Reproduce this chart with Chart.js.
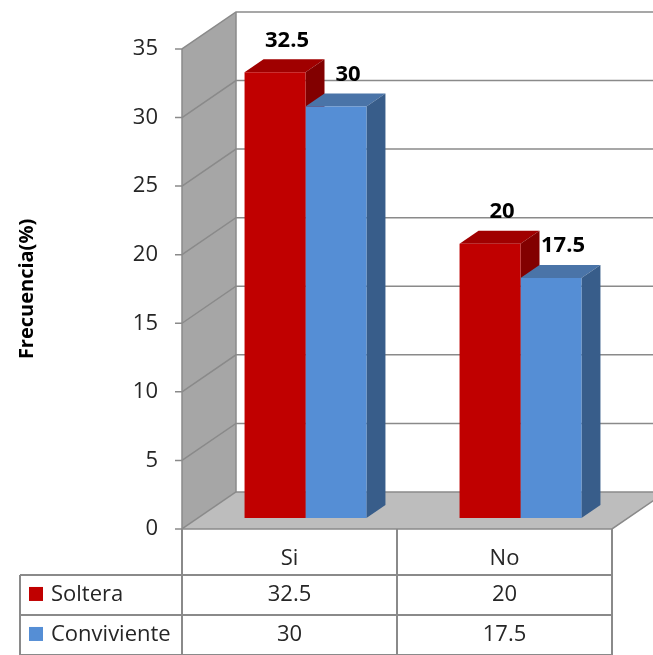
<!DOCTYPE html>
<html>
<head>
<meta charset="utf-8">
<script src="https://cdn.jsdelivr.net/npm/chart.js@4.4.1/dist/chart.umd.min.js"></script>
<style>
  html, body { margin: 0; padding: 0; background: #fff; }
  #wrap { width: 653px; height: 655px; position: relative; }
</style>
</head>
<body>
<div id="wrap"><canvas id="chartArea"></canvas></div>
<script>
// Chart data
var categories = ['Si', 'No'];
var seriesNames = ['Soltera', 'Conviviente'];
var solteraValues = [32.5, 20];
var convivienteValues = [30, 17.5];
var yMin = 0;
var yMax = 35;
var yStep = 5;
var yTitle = 'Frecuencia(%)';

// Colours per series: front, top, side
var frontColors = ['#c00000', '#558ed5'];
var topColors = ['#a00000', '#4a74a8'];
var sideColors = ['#820000', '#385d8a'];

// 3D look: how far things sit in depth (px along the oblique)
var depthRatio = 37 / 54;
var frontDepth = -16;  // front edge of floor / y axis
var barDepth = 19;     // thickness of each bar
var backDepth = 38;    // back wall
var fontName = '"Open Sans", sans-serif';

function shift(d) {
  return { x: d, y: -d * depthRatio };
}

function quad(ctx, pts, fill, stroke) {
  ctx.beginPath();
  ctx.moveTo(pts[0][0], pts[0][1]);
  for (var i = 1; i < pts.length; i++) ctx.lineTo(pts[i][0], pts[i][1]);
  ctx.closePath();
  if (fill) { ctx.fillStyle = fill; ctx.fill(); }
  if (stroke) { ctx.strokeStyle = stroke; ctx.stroke(); }
}

function tickValues(ys) {
  if (ys.ticks && ys.ticks.length) return ys.ticks.map(function (t) { return t.value; });
  var out = [];
  for (var v = yMin; v <= yMax; v += yStep) out.push(v);
  return out;
}

var threeD = {
  id: 'threeD',
  beforeDatasetsDraw: function (chart) {
    var ctx = chart.ctx, area = chart.chartArea;
    var ys = chart.scales.y;
    var f = shift(frontDepth), b = shift(backDepth);
    var y0 = ys.getPixelForValue(yMin), yTop = ys.getPixelForValue(yMax);
    var W = chart.width + 60;

    ctx.save();
    ctx.lineWidth = 1.5;
    // back wall
    quad(ctx, [[area.left + b.x, yTop + b.y], [W, yTop + b.y], [W, y0 + b.y], [area.left + b.x, y0 + b.y]], '#ffffff');
    // left side wall
    quad(ctx, [[area.left + f.x, y0 + f.y], [area.left + b.x, y0 + b.y],
               [area.left + b.x, yTop + b.y], [area.left + f.x, yTop + f.y]], '#a6a6a6');
    // floor
    quad(ctx, [[area.left + f.x, y0 + f.y], [area.right + f.x, y0 + f.y],
               [area.right + b.x, y0 + b.y], [area.left + b.x, y0 + b.y]], '#bdbdbd');

    // grid lines on side wall and back wall
    ctx.strokeStyle = '#8a8a8a';
    tickValues(ys).forEach(function (v) {
      var y = ys.getPixelForValue(v);
      ctx.beginPath();
      ctx.moveTo(area.left + f.x, y + f.y);
      ctx.lineTo(area.left + b.x, y + b.y);
      if (v !== yMin) ctx.lineTo(W, y + b.y);
      ctx.stroke();
    });
    // wall edges
    ctx.beginPath();
    ctx.moveTo(area.left + b.x, yTop + b.y);
    ctx.lineTo(area.left + b.x, y0 + b.y);
    ctx.lineTo(area.right + b.x, y0 + b.y);
    ctx.moveTo(area.left + f.x, y0 + f.y);
    ctx.lineTo(area.right + f.x, y0 + f.y);
    ctx.lineTo(area.right + b.x, y0 + b.y);
    ctx.stroke();

    // bar tops and sides (fronts are drawn by Chart.js)
    var d = shift(barDepth);
    chart.data.datasets.forEach(function (ds, i) {
      chart.getDatasetMeta(i).data.forEach(function (bar) {
        var l = bar.x - bar.width / 2, r = bar.x + bar.width / 2;
        quad(ctx, [[l, bar.y], [r, bar.y], [r + d.x, bar.y + d.y], [l + d.x, bar.y + d.y]], topColors[i]);
        quad(ctx, [[r, bar.y], [r + d.x, bar.y + d.y], [r + d.x, bar.base + d.y], [r, bar.base]], sideColors[i]);
      });
    });
    ctx.restore();
  },
  afterDatasetsDraw: function (chart) {
    var ctx = chart.ctx, area = chart.chartArea;
    var xs = chart.scales.x, ys = chart.scales.y;
    var f = shift(frontDepth), d = shift(barDepth);
    var y0 = ys.getPixelForValue(yMin) + f.y;
    var yTop = ys.getPixelForValue(yMax) + f.y;
    var axisX = area.left + f.x;

    ctx.save();
    // front y axis with ticks
    ctx.strokeStyle = '#8a8a8a';
    ctx.lineWidth = 1.5;
    ctx.beginPath();
    ctx.moveTo(axisX, yTop);
    ctx.lineTo(axisX, y0);
    tickValues(ys).forEach(function (v) {
      var y = ys.getPixelForValue(v) + f.y;
      ctx.moveTo(axisX - 7, y);
      ctx.lineTo(axisX, y);
    });
    ctx.stroke();

    ctx.fillStyle = '#262626';
    ctx.font = '22px ' + fontName;
    ctx.textAlign = 'right';
    ctx.textBaseline = 'middle';
    tickValues(ys).forEach(function (v) {
      ctx.fillText(String(v), axisX - 24, ys.getPixelForValue(v) + f.y);
    });

    // axis title
    ctx.save();
    ctx.translate(27, (yTop + y0) / 2);
    ctx.rotate(-Math.PI / 2);
    ctx.textAlign = 'center';
    ctx.font = 'bold 20px ' + fontName;
    ctx.fillStyle = '#000';
    ctx.fillText(yTitle, 0, 0);
    ctx.restore();

    // value labels over the bars
    ctx.font = 'bold 22px ' + fontName;
    ctx.textAlign = 'center';
    ctx.fillStyle = '#000';
    chart.data.datasets.forEach(function (ds, i) {
      chart.getDatasetMeta(i).data.forEach(function (bar, j) {
        ctx.fillText(String(ds.data[j]), bar.x + 12, bar.y + d.y - 19);
      });
    });

    // data table under the plot
    var tblLeft = 20, headH = 46, rowH = 40;
    var xRight = area.right + f.x;
    var bounds = [axisX];
    for (var k = 1; k < categories.length; k++) {
      bounds.push((xs.getPixelForValue(k - 1) + xs.getPixelForValue(k)) / 2 + f.x);
    }
    bounds.push(xRight);
    var rowsTop = y0 + headH;
    var tblBottom = rowsTop + rowH * seriesNames.length;

    ctx.strokeStyle = '#8a8a8a';
    ctx.lineWidth = 2;
    ctx.beginPath();
    bounds.forEach(function (x) {
      ctx.moveTo(x, y0);
      ctx.lineTo(x, tblBottom);
    });
    ctx.moveTo(tblLeft, rowsTop);
    ctx.lineTo(tblLeft, tblBottom);
    for (var r = 0; r <= seriesNames.length; r++) {
      ctx.moveTo(tblLeft, rowsTop + r * rowH);
      ctx.lineTo(xRight, rowsTop + r * rowH);
    }
    ctx.stroke();

    ctx.font = '22px ' + fontName;
    ctx.fillStyle = '#262626';
    ctx.textAlign = 'center';
    categories.forEach(function (c, j) {
      ctx.fillText(c, xs.getPixelForValue(j) + f.x, y0 + 30);
    });
    chart.data.datasets.forEach(function (ds, i) {
      var cy = rowsTop + rowH * i + rowH / 2;
      ctx.fillStyle = frontColors[i];
      ctx.fillRect(29, cy - 8, 14, 14);
      ctx.fillStyle = '#262626';
      ctx.textAlign = 'left';
      ctx.fillText(ds.label, 51, cy);
      ctx.textAlign = 'center';
      ds.data.forEach(function (v, j) {
        ctx.fillText(String(v), xs.getPixelForValue(j) + f.x, cy);
      });
    });
    ctx.restore();
  }
};

var ctx = document.getElementById('chartArea').getContext('2d');
new Chart(ctx, {
  type: 'bar',
  data: {
    labels: categories,
    datasets: [
      { label: seriesNames[0], data: solteraValues, backgroundColor: frontColors[0] },
      { label: seriesNames[1], data: convivienteValues, backgroundColor: frontColors[1] }
    ]
  },
  options: {
    responsive: true,
    maintainAspectRatio: false,
    animation: false,
    devicePixelRatio: 1,
    layout: { padding: { left: 198, right: 25, top: 38, bottom: 137 } },
    datasets: { bar: { categoryPercentage: 0.567, barPercentage: 1, borderWidth: 0 } },
    plugins: { legend: { display: false }, tooltip: { enabled: false } },
    scales: {
      x: { display: false },
      y: { display: false, min: yMin, max: yMax, ticks: { stepSize: yStep } }
    }
  },
  plugins: [threeD]
});
</script>
</body>
</html>
